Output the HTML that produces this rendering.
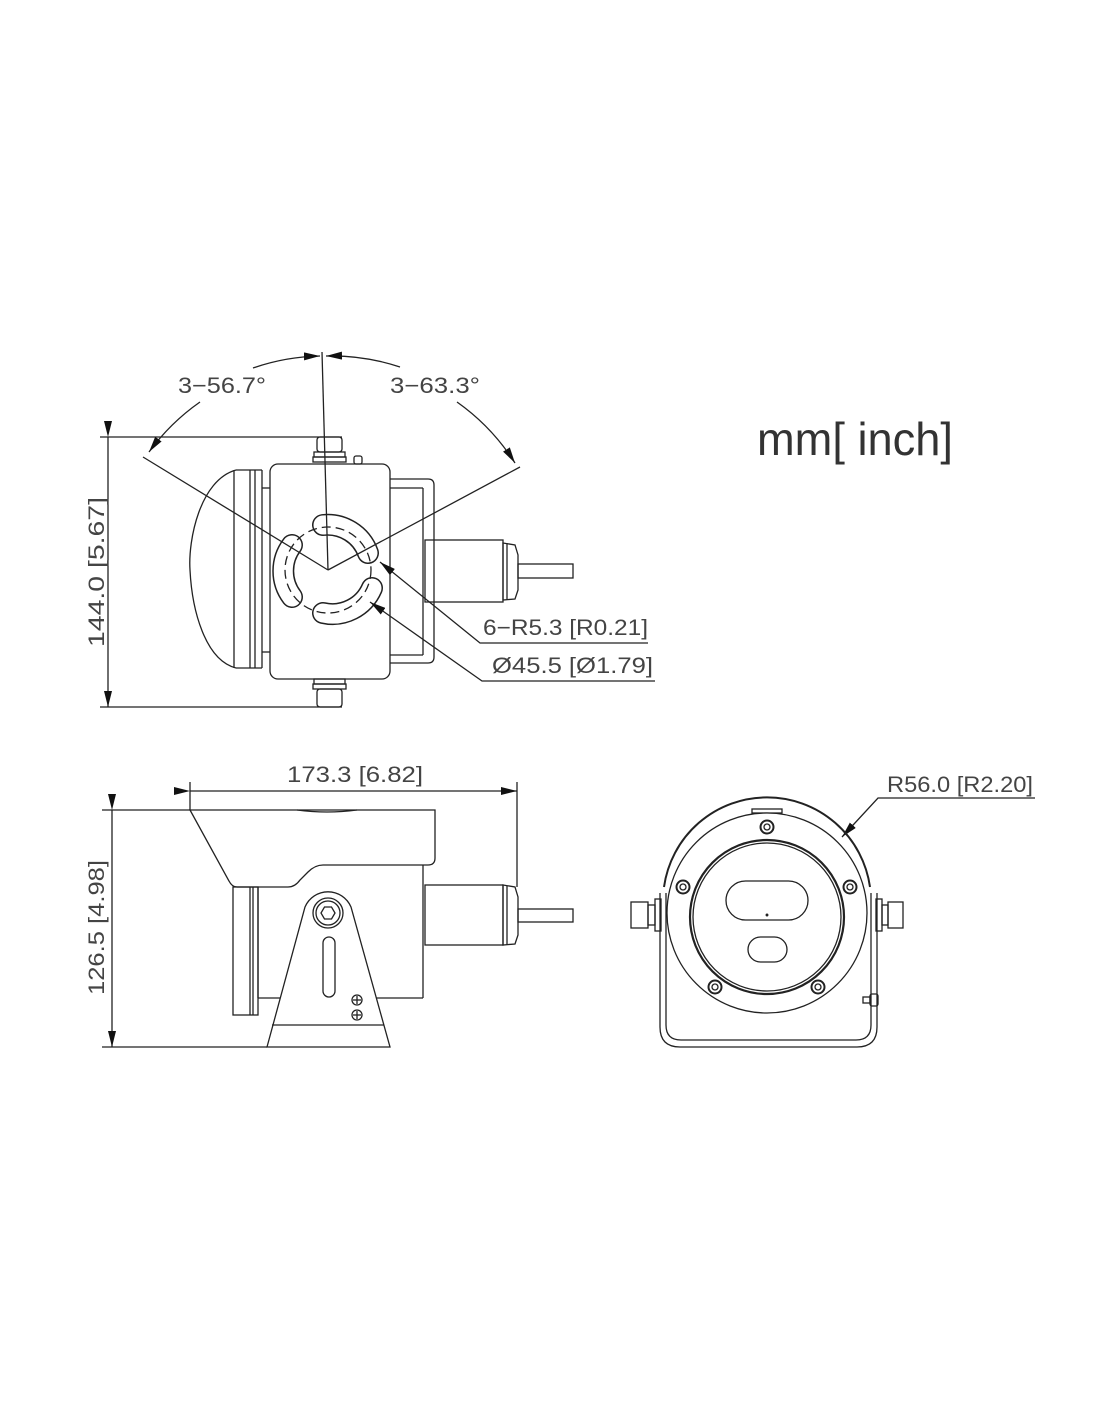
<!DOCTYPE html>
<html><head><meta charset="utf-8"><style>
html,body{margin:0;padding:0;background:#fff;}
svg{display:block;}
text{font-family:"Liberation Sans",sans-serif;fill:#444;}
</style></head><body>
<svg width="1100" height="1422" viewBox="0 0 1100 1422" xmlns="http://www.w3.org/2000/svg">
<defs>
<marker id="ar" viewBox="0 0 10 6" refX="10" refY="3" markerWidth="10" markerHeight="6" orient="auto" markerUnits="userSpaceOnUse">
<path d="M0,0 L10,3 L0,6 Z" fill="#111"/></marker>
<marker id="arL" viewBox="0 0 16 8" refX="16" refY="4" markerWidth="16" markerHeight="8" orient="auto" markerUnits="userSpaceOnUse">
<path d="M0,0 L16,4 L0,8 Z" fill="#111"/></marker>
</defs>
<g fill="none" stroke="#222" stroke-width="1.3">
<!-- ===== TOP VIEW ===== -->
<!-- dims -->
<line x1="100" y1="437" x2="342" y2="437"/>
<line x1="100" y1="707" x2="342" y2="707"/>
<line x1="108" y1="437" x2="108" y2="707" marker-start="url(#arL)" marker-end="url(#arL)"/>
<!-- dome & flange -->
<path d="M236,470 C200,480 188,540 190,570 C192,610 205,660 236,668"/>
<line x1="234" y1="470" x2="234" y2="668"/>
<line x1="236" y1="470" x2="262" y2="470"/><line x1="236" y1="668" x2="262" y2="668"/>
<line x1="250" y1="470" x2="250" y2="668"/><line x1="255" y1="470" x2="255" y2="668"/>
<line x1="262" y1="470" x2="262" y2="668"/>
<line x1="262" y1="488" x2="270" y2="488"/><line x1="262" y1="652" x2="270" y2="652"/>
<!-- body -->
<rect x="270" y="464" width="120" height="215" rx="8"/>
<!-- rear bracket -->
<path d="M390,479 L428,479 Q434,479 434,485 L434,657 Q434,663 428,663 L390,663"/>
<line x1="390" y1="488" x2="423" y2="488"/><line x1="390" y1="655" x2="423" y2="655"/>
<line x1="423" y1="488" x2="423" y2="655"/>
<!-- gland -->
<rect x="425" y="540" width="78" height="62"/>
<path d="M503,543 L515,545 L518,555 L518,590 L515,599 L503,600 Z"/>
<line x1="507" y1="543" x2="507" y2="600"/>
<rect x="518" y="564" width="55" height="14"/>
<!-- top connector -->
<rect x="317" y="437" width="25" height="15" rx="3"/>
<rect x="314" y="452" width="31" height="5"/><rect x="313" y="457" width="33" height="5"/>
<rect x="354" y="456" width="8" height="8" rx="2"/>
<!-- bottom connector -->
<rect x="314" y="679" width="31" height="5"/><rect x="313" y="684" width="33" height="5"/>
<rect x="317" y="689" width="25" height="18" rx="3"/>
<!-- slots -->
<g stroke-linecap="round">
<path d="M323,525 A43,43 0 0 1 368,553" stroke="#222" stroke-width="22"/>
<path d="M323,525 A43,43 0 0 1 368,553" stroke="#fff" stroke-width="19"/>
<path d="M292,545 A43,43 0 0 0 292,597" stroke="#222" stroke-width="22"/>
<path d="M292,545 A43,43 0 0 0 292,597" stroke="#fff" stroke-width="19"/>
<path d="M323,613 A43,43 0 0 0 372,588" stroke="#222" stroke-width="22"/>
<path d="M323,613 A43,43 0 0 0 372,588" stroke="#fff" stroke-width="19"/>
</g>
<circle cx="328" cy="570" r="43" stroke-dasharray="9,5"/>
<!-- angle lines -->
<line x1="328" y1="570" x2="322" y2="352"/>
<line x1="328" y1="570" x2="143" y2="457"/>
<line x1="328" y1="570" x2="520" y2="467"/>
<path d="M253,368 A217,217 0 0 1 320,356" marker-end="url(#arL)"/>
<path d="M400,367 A217,217 0 0 0 326,356" marker-end="url(#arL)"/>
<path d="M200,402 A217,217 0 0 0 149,452" marker-end="url(#arL)"/>
<path d="M457,402 A217,217 0 0 1 515,463" marker-end="url(#arL)"/>
<!-- leaders -->
<polyline points="648,643 480,643 380,562" marker-end="url(#arL)"/>
<polyline points="655,681 482,681 370,602" marker-end="url(#arL)"/>

<!-- ===== SIDE VIEW ===== -->
<line x1="190" y1="782" x2="190" y2="810"/>
<line x1="517" y1="782" x2="517" y2="887"/>
<line x1="190" y1="791" x2="517" y2="791" marker-start="url(#arL)" marker-end="url(#arL)"/>
<line x1="102" y1="810" x2="190" y2="810"/>
<line x1="102" y1="1047" x2="267" y2="1047"/>
<line x1="112" y1="810" x2="112" y2="1047" marker-start="url(#arL)" marker-end="url(#arL)"/>
<!-- sunshield -->
<path d="M190,810 L435,810 L435,858 Q435,865 428,865 L323,865 Q315,865 308,872 L300,880 Q295,887 288,887 L237,887 Q232,887 229,881 Z"/>
<path d="M297,810 Q327,814 357,810"/>
<!-- flange -->
<rect x="233" y="887" width="25" height="128"/>
<line x1="250" y1="887" x2="250" y2="1015"/><line x1="253" y1="887" x2="253" y2="1015"/>
<!-- body -->
<line x1="258" y1="998" x2="423" y2="998"/>
<line x1="258" y1="887" x2="258" y2="998"/>
<line x1="423" y1="865" x2="423" y2="998"/>
<!-- gland -->
<rect x="425" y="885" width="78" height="60"/>
<path d="M503,885 L515,887 L518,897 L518,935 L515,944 L503,945 Z"/>
<line x1="507" y1="886" x2="507" y2="945"/>
<rect x="518" y="909" width="55" height="13"/>
<!-- bracket -->
<path d="M267,1047 L305,907 A25,25 0 0 1 351,907 L390,1047 Z" fill="#fff"/>
<line x1="272" y1="1025" x2="384" y2="1025"/>
<circle cx="328" cy="913" r="15"/><circle cx="328" cy="913" r="12"/>
<polygon points="335,913 331.5,919 324.5,919 321,913 324.5,907 331.5,907"/>
<rect x="323" y="937" width="12" height="60" rx="6"/>
<circle cx="357" cy="1000" r="5"/><line x1="353" y1="1000" x2="361" y2="1000"/><line x1="357" y1="996" x2="357" y2="1004"/>
<circle cx="357" cy="1015" r="5"/><line x1="353" y1="1015" x2="361" y2="1015"/><line x1="357" y1="1011" x2="357" y2="1019"/>

<!-- ===== FRONT VIEW ===== -->
<polyline points="1035,798 878,798 842,837" marker-end="url(#arL)"/>
<!-- bracket U -->
<path d="M660,893 L660,1027 Q660,1047 680,1047 L857,1047 Q877,1047 877,1027 L877,893"/>
<path d="M666,893 L666,1025 Q666,1040 681,1040 L856,1040 Q871,1040 871,1025 L871,893"/>
<!-- shroud arc -->
<path d="M664,887 A104,104 0 0 1 870,887" stroke-width="2"/>
<rect x="752" y="809" width="30" height="4"/>
<!-- ring -->
<circle cx="767" cy="913" r="100" fill="#fff"/>
<circle cx="767" cy="917" r="77" stroke-width="2.2"/>
<circle cx="767" cy="917" r="74"/>
<rect x="726" y="881" width="82" height="39" rx="19.5"/>
<rect x="748" y="937" width="39" height="25" rx="12.5"/>
<circle cx="767" cy="915" r="0.8" fill="#222"/>
<g>
<circle cx="767" cy="827" r="6.5" stroke-width="2"/><circle cx="767" cy="827" r="3"/>
<circle cx="683" cy="887" r="6.5" stroke-width="2"/><circle cx="683" cy="887" r="3"/>
<circle cx="850" cy="887" r="6.5" stroke-width="2"/><circle cx="850" cy="887" r="3"/>
<circle cx="715" cy="987" r="6.5" stroke-width="2"/><circle cx="715" cy="987" r="3"/>
<circle cx="818" cy="987" r="6.5" stroke-width="2"/><circle cx="818" cy="987" r="3"/>
</g>
<!-- knobs -->
<rect x="631" y="902" width="17" height="26"/><rect x="648" y="905" width="7" height="20"/><rect x="655" y="899" width="6" height="32"/>
<rect x="876" y="899" width="6" height="32"/><rect x="882" y="905" width="6" height="20"/><rect x="888" y="902" width="15" height="26"/>
<rect x="863" y="997" width="7" height="6"/><rect x="870" y="994" width="8" height="12" rx="2"/>
</g>

<!-- TEXT -->
<g font-size="22">
<text x="178" y="393" textLength="88" lengthAdjust="spacingAndGlyphs">3−56.7°</text>
<text x="390" y="393" textLength="90" lengthAdjust="spacingAndGlyphs">3−63.3°</text>
<text x="483" y="635" textLength="165" lengthAdjust="spacingAndGlyphs">6−R5.3 [R0.21]</text>
<text x="492" y="673" textLength="161" lengthAdjust="spacingAndGlyphs">Ø45.5 [Ø1.79]</text>
<text transform="translate(104,647) rotate(-90)" x="0" y="0" textLength="150" lengthAdjust="spacingAndGlyphs">144.0 [5.67]</text>
<text x="287" y="782" textLength="136" lengthAdjust="spacingAndGlyphs">173.3 [6.82]</text>
<text transform="translate(104,995) rotate(-90)" x="0" y="0" textLength="135" lengthAdjust="spacingAndGlyphs">126.5 [4.98]</text>
<text x="887" y="792" textLength="146" lengthAdjust="spacingAndGlyphs">R56.0 [R2.20]</text>
</g>
<text x="757" y="455" font-size="46" textLength="196" lengthAdjust="spacingAndGlyphs" style="fill:#333">mm[ inch]</text>
</svg>
</body></html>
